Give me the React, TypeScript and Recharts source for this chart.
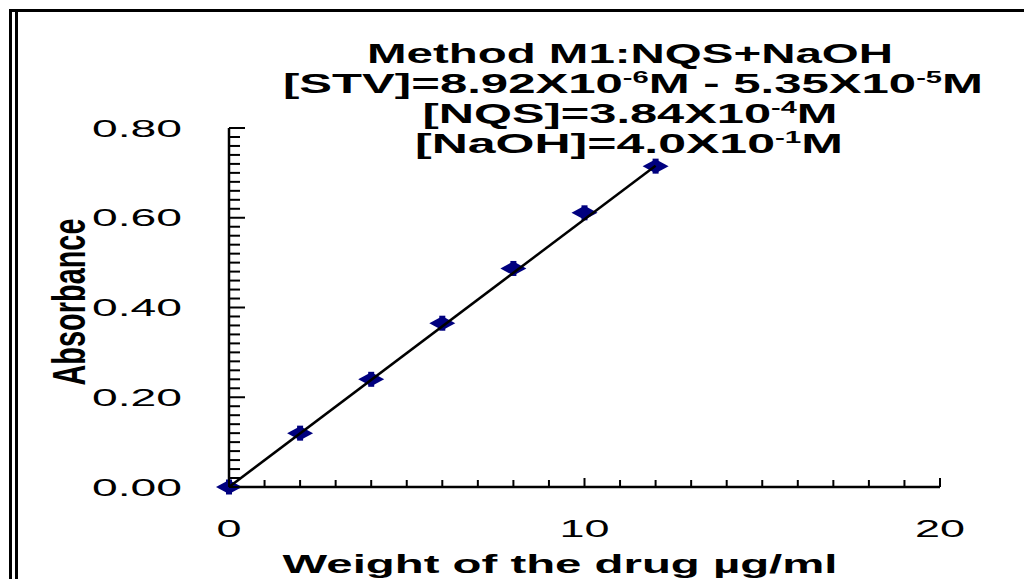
import { ScatterChart, Scatter, XAxis, YAxis } from "recharts"

// calibration points
const weight = [0, 2, 4, 6, 8, 10, 12]
const absorbance = [0.0, 0.12, 0.24, 0.365, 0.487, 0.611, 0.715]

// regression line end points
const fitWeight = [0, 12]
const fitAbsorbance = [0.0, 0.716]

const yMajor = [0, 0.2, 0.4, 0.6, 0.8]
const yLabels = ["0.00", "0.20", "0.40", "0.60", "0.80"]
const xMajor = [0, 10, 20]
const xLabels = ["0", "10", "20"]

const yTicks = Array.from({ length: 41 }, (_, i) => Math.round(i * 2) / 100)
const xTicks = Array.from({ length: 21 }, (_, i) => i)

const points = weight.map((w, i) => ({ x: w, y: absorbance[i] }))
const fit = fitWeight.map((w, i) => ({ x: w, y: fitAbsorbance[i] }))

const font = "'Liberation Sans', Arial, sans-serif"

const YTick = (props: any) => {
  const { x, y, payload } = props
  const idx = yMajor.findIndex((m) => Math.abs(m - payload.value) < 1e-6)
  const major = idx >= 0
  return (
    <g>
      <line x1={x} x2={x + (major ? 16 : 11)} y1={y} y2={y} stroke="#000" strokeWidth={2} />
      {major && (
        <text
          x={x - 47}
          y={y + 8.5}
          textAnchor="end"
          fontFamily={font}
          fontSize={24}
          textLength={90}
          lengthAdjust="spacingAndGlyphs"
          fill="#000"
        >
          {yLabels[idx]}
        </text>
      )}
    </g>
  )
}

const XTick = (props: any) => {
  const { x, y, payload } = props
  const idx = xMajor.indexOf(payload.value)
  const major = idx >= 0
  return (
    <g>
      <line x1={x} x2={x} y1={y} y2={y - (major ? 9 : 7)} stroke="#000" strokeWidth={2} />
      {major && (
        <text
          x={x}
          y={y + 50}
          textAnchor="middle"
          fontFamily={font}
          fontSize={24}
          textLength={xLabels[idx].length * 25}
          lengthAdjust="spacingAndGlyphs"
          fill="#000"
        >
          {xLabels[idx]}
        </text>
      )}
    </g>
  )
}

const Marker = (props: any) => {
  const { cx, cy } = props
  return (
    <g fill="#00007f">
      <polygon points={`${cx - 13},${cy} ${cx},${cy - 7} ${cx + 13},${cy} ${cx},${cy + 7}`} />
      <rect x={cx - 3} y={cy - 7.5} width={6} height={15} />
    </g>
  )
}

type Seg = [string, boolean?]
const titleLines: { segs: Seg[]; cx: number; y: number; len: number }[] = [
  { segs: [["Method M1:NQS+NaOH"]], cx: 630, y: 63, len: 526 },
  {
    segs: [["[STV]=8.92X10"], ["-6", true], ["M - 5.35X10"], ["-5", true], ["M"]],
    cx: 633,
    y: 93,
    len: 700,
  },
  { segs: [["[NQS]=3.84X10"], ["-4", true], ["M"]], cx: 630, y: 123, len: 415 },
  { segs: [["[NaOH]=4.0X10"], ["-1", true], ["M"]], cx: 629, y: 153, len: 428 },
]

export default function App() {
  return (
    <div style={{ position: "absolute", left: 0, top: 0, width: 1024, height: 579, background: "#fff" }}>
      <ScatterChart width={1024} height={579} margin={{ top: 128, right: 84, bottom: 32, left: 129 }}>
        <XAxis
          type="number"
          dataKey="x"
          domain={[0, 20]}
          ticks={xTicks}
          interval={0}
          tickSize={0}
          tickMargin={0}
          tickLine={false}
          tick={<XTick />}
          axisLine={{ stroke: "#000", strokeWidth: 2.5 }}
          height={60}
        />
        <YAxis
          type="number"
          dataKey="y"
          domain={[0, 0.8]}
          ticks={yTicks}
          interval={0}
          tickSize={0}
          tickMargin={0}
          tickLine={false}
          tick={<YTick />}
          axisLine={{ stroke: "#000", strokeWidth: 2.5 }}
          width={100}
        />
        <Scatter data={points} shape={<Marker />} isAnimationActive={false} />
        <Scatter
          data={fit}
          line={{ stroke: "#000", strokeWidth: 2.5 }}
          shape={() => <g />}
          isAnimationActive={false}
        />
      </ScatterChart>
      <svg
        width={1024}
        height={579}
        style={{ position: "absolute", left: 0, top: 0, pointerEvents: "none" }}
      >
        <rect x={9} y={9} width={1015} height={3} fill="#000" />
        <rect x={9} y={9} width={3} height={570} fill="#000" />
        <rect x={15} y={12} width={3} height={567} fill="#000" />
        {titleLines.map((l, i) => (
          <text
            key={i}
            x={l.cx}
            y={l.y}
            textAnchor="middle"
            fontFamily={font}
            fontWeight="bold"
            fontSize={27}
            textLength={l.len}
            lengthAdjust="spacingAndGlyphs"
            fill="#000"
          >
            {l.segs.map(([t, sup], j) =>
              sup ? (
                <tspan key={j} fontSize={16} dy={-10}>
                  {t}
                </tspan>
              ) : (
                <tspan key={j} dy={j > 0 ? 10 : 0}>
                  {t}
                </tspan>
              )
            )}
          </text>
        ))}
        <text
          transform="translate(85,302) rotate(-90)"
          textAnchor="middle"
          fontFamily="'Liberation Sans Narrow', 'Liberation Sans', Arial, sans-serif"
          fontWeight="bold"
          fontSize={46}
          textLength={167}
          lengthAdjust="spacingAndGlyphs"
          fill="#000"
        >
          Absorbance
        </text>
        <text
          x={560}
          y={573}
          textAnchor="middle"
          fontFamily={font}
          fontWeight="bold"
          fontSize={25}
          textLength={555}
          lengthAdjust="spacingAndGlyphs"
          fill="#000"
        >
          Weight of the drug µg/ml
        </text>
      </svg>
    </div>
  )
}
